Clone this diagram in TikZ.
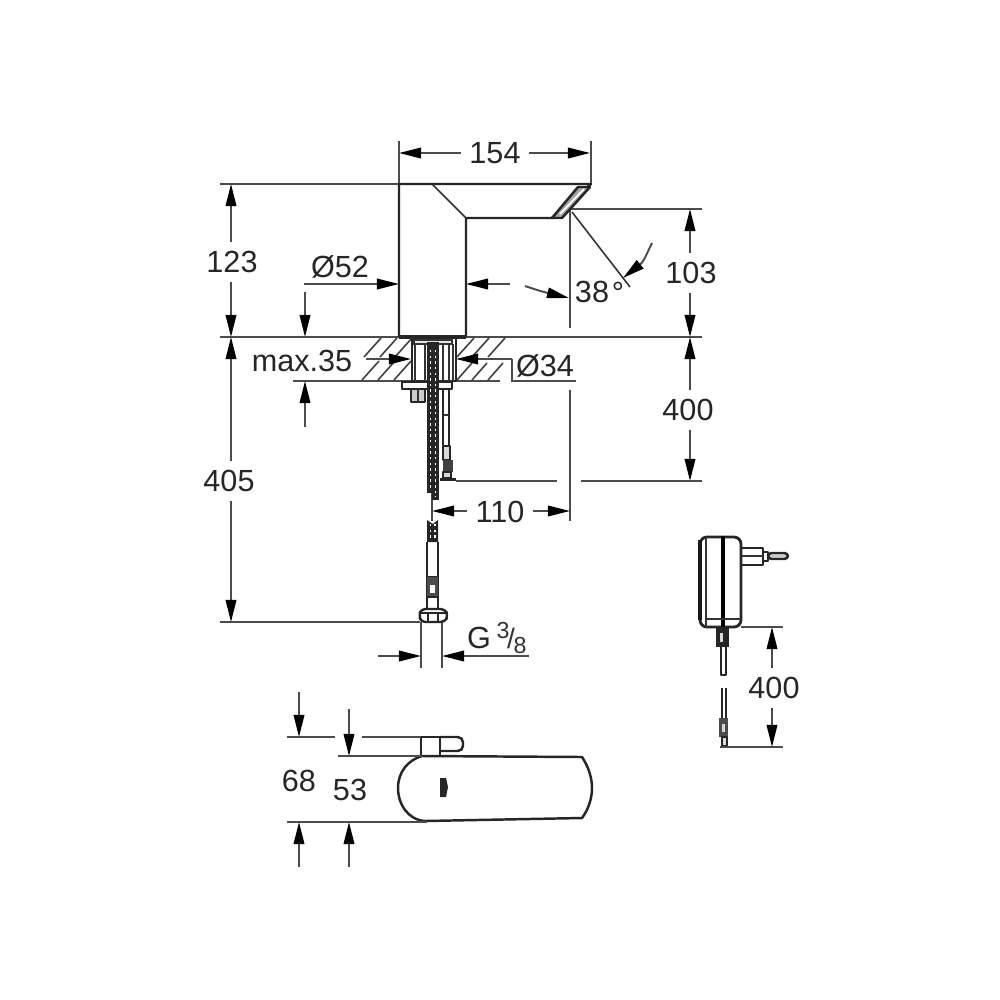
\documentclass[tikz,border=0pt]{standalone}
\usepackage{fontspec}
\setmainfont{Liberation Sans}
\usetikzlibrary{arrows.meta}
\tikzset{
    part/.style={black!85, line width=0.7pt, line join=round},
    thinpart/.style={black!80, line width=0.45pt},
    extline/.style={black!70, line width=0.55pt},
    dimline/.style={black!70, line width=0.55pt, -{Triangle[length=2.2mm,width=1.05mm,black]}},
    hatchline/.style={black!75, line width=0.45pt},
    dimtext/.style={inner sep=0.8mm, text=black!85, font=\fontsize{8.7}{10}\selectfont},
    smalltext/.style={inner sep=0pt, text=black!80, font=\fontsize{6.6}{8}\selectfont},
    hose/.style={white, line width=0.5pt, dash pattern=on 0.7pt off 0.9pt}
}
\begin{document}
\begin{tikzpicture}[x=0.01cm,y=-0.01cm]
    \useasboundingbox (0,0) rectangle (1000,1000);
    % extension lines
    \draw[extline] (399,141) -- (399,184);
    \draw[extline] (591,141) -- (591,184);
    \draw[extline] (220,184) -- (399,184);
    \draw[extline, line width=0.8pt] (220,337) -- (702,337);
    \draw[extline, line width=0.8pt] (570,209) -- (702,209);
    \draw[extline] (570,209) -- (570,328);
    \draw[extline] (570,390) -- (570,521);
    \draw[extline] (456,481) -- (557,481);
    \draw[extline] (581,481) -- (702,481);
    \draw[extline] (432,490) -- (432,521);
    \draw[extline] (220,622) -- (420,622);
    \draw[extline] (293,381) -- (362,381);
    \draw[extline] (421,622) -- (421,668);
    \draw[extline] (442,622) -- (442,668);
    % spout
    \draw[part] (466,337) -- (466,218) -- (552,218) -- (591,184) -- (399,184) -- (399,337);
    \draw[thinpart] (432,184) -- (466,218);
    \draw[part, fill=black!35] (552,218) -- (562,218) -- (590,187) -- (578,187) -- cycle;
    \draw[white, line width=0.5pt] (560,214) -- (584,189);
    \draw[part, line width=1.1pt] (399,337) -- (466,337);
    \draw[thinpart] (572,212) -- (630,287);
    % slab
    \draw[extline] (362,381) -- (412,381);
    \draw[extline] (456,381) -- (500,381);
    \foreach \x in {364,380,395}
        \draw[hatchline] (\x,357) -- ++(17,-19);
    \foreach \x in {362,378,394}
        \draw[hatchline] (\x,380) -- ++(17,-19);
    \foreach \x in {457,472,488}
        \draw[hatchline] (\x,357) -- ++(17,-19);
    \foreach \x in {457,472,488}
        \draw[hatchline] (\x,380) -- ++(15,-17);
    % shank
    \draw[part] (412,338) rectangle (456,381);
    \draw[thinpart, fill=black!10] (414,340) rectangle (452,344);
    \foreach \x in {415,425,443,449,453}
        \draw[thinpart] (\x,344) -- (\x,381);
    \draw[part] (402,389) -- (402,382) -- (452,382) -- (452,389) -- cycle;
    \draw[part, fill=black!20] (411,389) rectangle (425,402);
    \draw[thinpart] (418,389) -- (418,402);
    % hose upper
    \fill[black!85] (427,342) rectangle (439,493);
    \fill[black!85] (432,493) rectangle (439,500);
    \draw[hose] (430.5,350) -- (430.5,490);
    \draw[hose] (435.5,350) -- (435.5,497);
    % cable with plug
    \draw[part] (443,389) -- (443,445);
    \draw[part] (449,389) -- (449,445);
    \draw[thinpart] (443,415) -- (449,415);
    \draw[part, fill=black!15] (443,446) rectangle (450,460);
    \fill[black!75] (443,460) rectangle (453,472);
    \draw[part, fill=black!15] (443,472) rectangle (451,478);
    \fill[black!85] (440,478) rectangle (456,481);
    % hose lower
    \fill[black!85] (427,520) -- (433,524) -- (438,520) -- (438,542) -- (427,542) -- cycle;
    \draw[hose] (430.5,524) -- (430.5,540);
    \draw[hose] (435,524) -- (435,540);
    \draw[part] (427,542) -- (427,610);
    \draw[part] (438,542) -- (438,610);
    \draw[part] (427,577) -- (438,577);
    \fill[black!70] (427,577) rectangle (438,597);
    \fill[white] (430,585) rectangle (435,593);
    \draw[part] (427,597) -- (438,597);
    % connection nut
    \draw[part, rounded corners=1.2pt] (421,609) -- (445,609) -- (448,615.5) -- (445,622) -- (421,622) -- (419,615.5) -- cycle;
    \draw[part] (419,613) -- (448,613);
    \draw[part] (428,613) -- (428,622);
    \draw[part] (438,613) -- (438,622);
    % power supply
    \draw[part, line width=0.8pt, rounded corners=2pt] (700,537) rectangle (741,627);
    \draw[black!90, line width=0.4mm] (700,540) -- (700,620);
    \draw[thinpart] (706,537) -- (706,627);
    \draw[black, line width=1.1pt] (723,536) -- (723,627);
    \draw[thinpart] (706,619) -- (741,619);
    \draw[part] (742,548) -- (763,548) -- (763,565) -- (742,565);
    \draw[thinpart] (742,556) -- (763,556);
    \draw[part] (763,552) -- (768,552) -- (768,561) -- (763,561);
    \draw[part, rounded corners=1pt, fill=black!20] (768,553) rectangle (788,559);
    \fill[black!85] (716,627) rectangle (729,647);
    \fill[black!15] (720,633) rectangle (723,642);
    \draw[part] (721,647) -- (721,675) -- (726,675) -- (726,647);
    \draw[part] (722,688) -- (722,718);
    \draw[part] (726,688) -- (726,718);
    \fill[black!70] (719,718) rectangle (728,737);
    \fill[black!15] (722,724) rectangle (725,732);
    \draw[part, fill=black!15] (722,737) rectangle (727,746);
    \draw[extline] (741,627) -- (783,627);
    \draw[extline] (720,747) -- (783,747);
    % plan view
    \draw[part] (422,756) -- (582,757) .. controls (588,766) and (592,777) .. (592,788)
        .. controls (592,799) and (588,810) .. (582,818) -- (425,821)
        .. controls (408,820) and (398,804) .. (398,788)
        .. controls (398,772) and (408,760) .. (422,756);
    \draw[part] (421,756) -- (421,737) -- (440,737) -- (440,756);
    \draw[part, rounded corners=1.5pt] (440,751) -- (463,751) -- (463,737) -- (440,737);
    \fill[black!85] (440,778) -- (446,778) -- (448,787) -- (446,797) -- (440,797) -- cycle;
    \draw[extline] (287,737) -- (335,737);
    \draw[extline] (362,737) -- (421,737);
    \draw[extline] (338,756) -- (422,756);
    \draw[extline] (287,822) -- (427,822);
    % named ends of the dimensions
    \coordinate (w154l) at (399,153);
    \coordinate (w154r) at (590,153);
    \coordinate (h123t) at (231,184);
    \coordinate (h123b) at (231,337);
    \coordinate (h405t) at (231,337);
    \coordinate (h405b) at (231,622);
    \coordinate (h103t) at (690,209);
    \coordinate (h103b) at (690,337);
    \coordinate (h400t) at (690,337);
    \coordinate (h400b) at (690,481);
    \coordinate (w110l) at (432,511);
    \coordinate (w110r) at (570,511);
    \coordinate (h68t) at (299,737);
    \coordinate (h68b) at (299,822);
    \coordinate (h53t) at (349,756);
    \coordinate (h53b) at (349,822);
    \coordinate (p400t) at (772,627);
    \coordinate (p400b) at (772,747);
    % labels
    \node[dimtext] (w154) at (495,153) {154};
    \node[dimtext] (h123) at (232,262) {123};
    \node[dimtext] (d52) at (340,267) {Ø52};
    \node[dimtext] (a38) at (592,292) {38};
    \node[dimtext, inner sep=0pt] (deg) at (618,293) {°};
    \node[dimtext] (h103) at (691,273) {103};
    \node[dimtext] (m35) at (302,361) {max.35};
    \node[dimtext] (d34) at (545,366) {Ø34};
    \node[dimtext] (h400) at (688,410) {400};
    \node[dimtext] (h405) at (229,481) {405};
    \node[dimtext] (w110) at (500,512) {110};
    \node[dimtext, inner sep=0pt] (gthread) at (479,638) {G};
    \node[smalltext] (gnum) at (503,631) {3};
    \node[smalltext, font=\fontsize{8}{9}\selectfont] (gbar) at (511,638) {/};
    \node[smalltext] (gden) at (520,645) {8};
    \node[dimtext] (p400) at (774,688) {400};
    \node[dimtext] (h68) at (299,781) {68};
    \node[dimtext] (h53) at (350,790) {53};
    % dimensions
    \draw[dimline] (w154l -| w154.west) -- (w154l);
    \draw[dimline] (w154r -| w154.east) -- (w154r);
    \draw[dimline] (h123t |- h123.north) -- (h123t);
    \draw[dimline] (h123b |- h123.south) -- (h123b);
    \draw[dimline] (h405t |- h405.north) -- (h405t);
    \draw[dimline] (h405b |- h405.south) -- (h405b);
    \draw[dimline] (h103t |- h103.north) -- (h103t);
    \draw[dimline] (h103b |- h103.south) -- (h103b);
    \draw[dimline] (h400t |- h400.north) -- (h400t);
    \draw[dimline] (h400b |- h400.south) -- (h400b);
    \draw[dimline] (w110l -| w110.west) -- (w110l);
    \draw[dimline] (w110r -| w110.east) -- (w110r);
    \draw[dimline] (p400t |- p400.north) -- (p400t);
    \draw[dimline] (p400b |- p400.south) -- (p400b);
    \draw[dimline] (299,692) -- (h68t);
    \draw[dimline] (299,867) -- (h68b);
    \draw[dimline] (349,709) -- (h53t);
    \draw[dimline] (349,867) -- (h53b);
    \draw[dimline] (304,284) -- (399,284);
    \draw[dimline] (510,284) -- (466,284);
    \draw[dimline] (525,286) .. controls (540,291) .. (569,298);
    \draw[dimline] (652,243) .. controls (643,262) .. (623,278);
    \draw[dimline] (305,292) -- (305,337);
    \draw[dimline] (305,427) -- (305,381);
    \draw[dimline] (366,359) -- (411,359);
    \draw[dimline] (512,359) -- (456,359);
    \draw[extline] (512,359) -- (512,381) -- (576,381);
    \draw[dimline] (378,656) -- (421,656);
    \draw[dimline] (529,656) -- (442,656);
\end{tikzpicture}
\end{document}
